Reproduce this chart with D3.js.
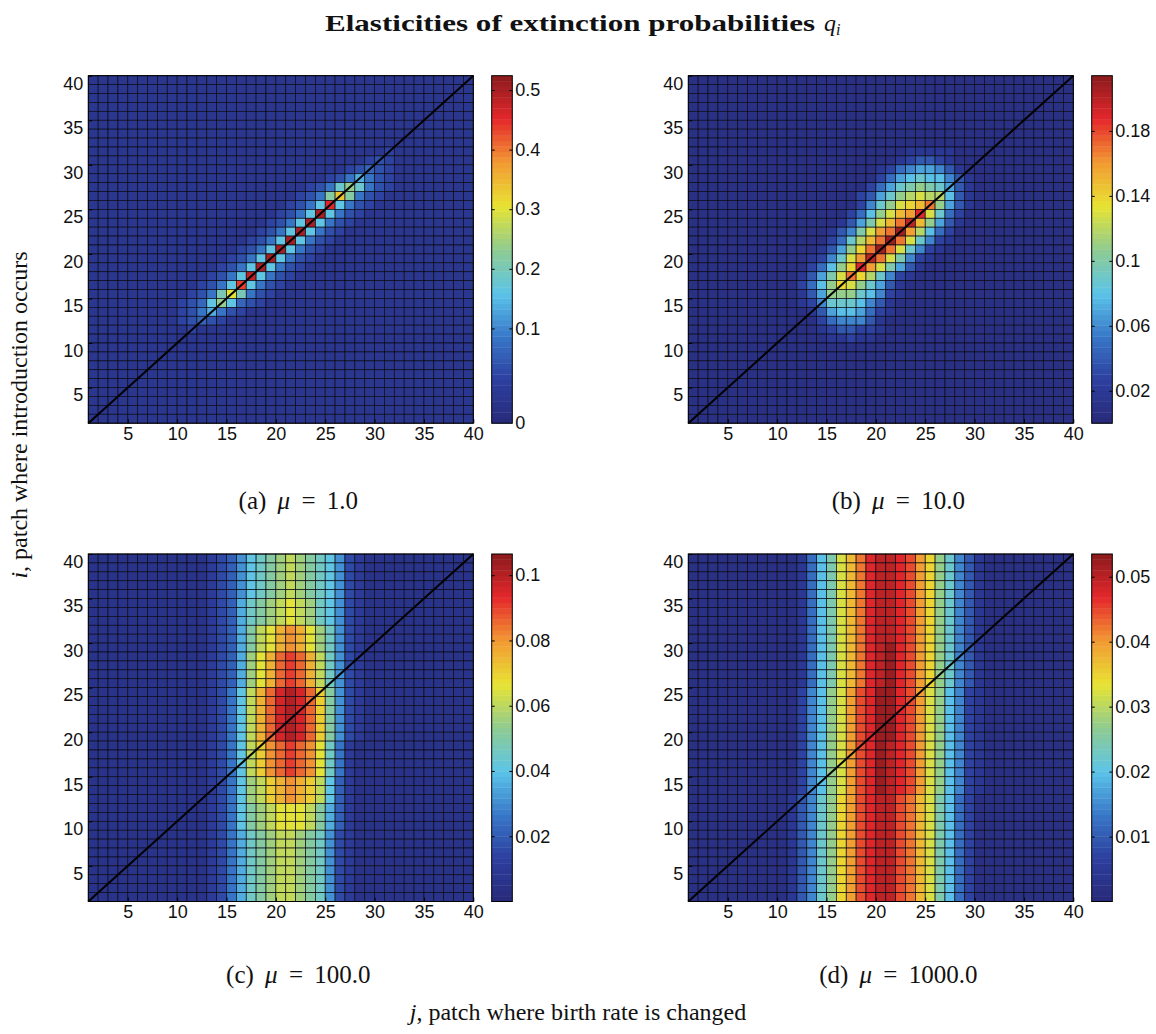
<!DOCTYPE html>
<html>
<head>
<meta charset="utf-8">
<script src="https://cdnjs.cloudflare.com/ajax/libs/d3/7.8.5/d3.min.js"></script>
<style>
  body { margin: 0; background: #ffffff; }
  svg { display: block; }
</style>
</head>
<body>
<svg id="chart" width="1156" height="1034"></svg>
<script>
// ---- values ----

// ticks on both heatmap axes (patch numbers)
const axisTicks = [5, 10, 15, 20, 25, 30, 35, 40];

const panelLetters = ["a", "b", "c", "d"];
const muLabels = ["1.0", "10.0", "100.0", "1000.0"];

// colour limits and colorbar ticks of every panel
const cbarMin = [-0.059, 0, 0, 0];
const cbarMax = [0.524, 0.214, 0.1065, 0.0535];
const cbarTicks = [
  [0.1, 0.2, 0.3, 0.4, 0.5],
  [0.02, 0.06, 0.1, 0.14, 0.18],
  [0.02, 0.04, 0.06, 0.08, 0.1],
  [0.01, 0.02, 0.03, 0.04, 0.05]
];
// label printed at the foot of the bar (only panel a has one)
const cbarFootLabel = ["0", "", "", ""];

// Cell grids: one row string per i, from i = 39 (top) down to i = 1,
// one base-36 level per column j = 1..39 (spaces only group the columns by ten).
// value = offset + level * step of the panel
const gridStep = [0.02, 0.01, 0.005, 0.0025];
const gridOffset = [-0.04, 0, 0, 0];

const gridA = [
  "1111111111 1111111111 1111111111 111111111",
  "1111111111 1111111111 1111111111 111111111",
  "1111111111 1111111111 1111111111 111111111",
  "1111111111 1111111111 1111111111 111111111",
  "1111111111 1111111111 1111111111 111111111",
  "1111111111 1111111111 1111111111 111111111",
  "1111111111 1111111111 1111111111 111111111",
  "1111111111 1111111111 1111111111 111111111",
  "1111111111 1111111111 1111111111 311111111",
  "1111111111 1111111111 1111111134 311111111",
  "1111111111 1111111111 1111113454 311111111",
  "1111111111 1111111111 1111346964 311111111",
  "1111111111 1111111111 11346beb64 311111111",
  "1111111111 1111111111 1346djd643 111111111",
  "1111111111 1111111111 346apa6431 111111111",
  "1111111111 1111111113 46ara64311 111111111",
  "1111111111 1111111134 6ara643111 111111111",
  "1111111111 1111111346 ara6431111 111111111",
  "1111111111 111111346a ra64311111 111111111",
  "1111111111 11111346ar a643111111 111111111",
  "1111111111 1111346ara 6431111111 111111111",
  "1111111111 111346ara6 4311111111 111111111",
  "1111111111 11346aqa64 3111111111 111111111",
  "1111111111 1346aoa643 1111111111 111111111",
  "1111111111 346chc6431 1111111111 111111111",
  "1111111113 45aea54311 1111111111 111111111",
  "1111111113 4696431111 1111111111 111111111",
  "1111111113 4543111111 1111111111 111111111",
  "1111111111 3111111111 1111111111 111111111",
  "1111111111 1111111111 1111111111 111111111",
  "1111111111 1111111111 1111111111 111111111",
  "1111111111 1111111111 1111111111 111111111",
  "1111111111 1111111111 1111111111 111111111",
  "1111111111 1111111111 1111111111 111111111",
  "1111111111 1111111111 1111111111 111111111",
  "1111111111 1111111111 1111111111 111111111",
  "1111111111 1111111111 1111111111 111111111",
  "1111111111 1111111111 1111111111 111111111",
  "1111111111 1111111111 1111111111 111111111"
];

const gridB = [
  "1111111111 1111111111 1111111111 111111111",
  "1111111111 1111111111 1111111111 111111111",
  "1111111111 1111111111 1111111111 111111111",
  "1111111111 1111111111 1111111111 111111111",
  "1111111111 1111111111 1111111111 111111111",
  "1111111111 1111111111 1111111111 111111111",
  "1111111111 1111111111 1111111111 111111111",
  "1111111111 1111111111 1111111111 111111111",
  "1111111111 1111111111 1122222111 111111111",
  "1111111111 1111111111 1234432111 111111111",
  "1111111111 1111111112 3567764211 111111111",
  "1111111111 1111111113 5789886421 111111111",
  "1111111111 1111111135 79aba97421 111111111",
  "1111111111 1111111347 9bcdcc8421 111111111",
  "1111111111 1111111369 bdefhb7421 111111111",
  "1111111111 111111358b dfgjd95311 111111111",
  "1111111111 11111247ad fhkfb74211 111111111",
  "1111111111 1111246adg hlgc853111 111111111",
  "1111111111 1111359cfh lhd9632111 111111111",
  "1111111111 111247behl hd96321111 111111111",
  "1111111111 112369dgkh da63211111 111111111",
  "1111111111 11358bejgd a742111111 111111111",
  "1111111111 1247adhec9 6321111111 111111111",
  "1111111111 1358bedb97 4211111111 111111111",
  "1111111111 1247bbb986 3211111111 111111111",
  "1111111111 1236999864 2111111111 111111111",
  "1111111111 1124788753 2111111111 111111111",
  "1111111111 1113566642 1111111111 111111111",
  "1111111111 1112344332 1111111111 111111111",
  "1111111111 1111223221 1111111111 111111111",
  "1111111111 1111111111 1111111111 111111111",
  "1111111111 1111111111 1111111111 111111111",
  "1111111111 1111111111 1111111111 111111111",
  "1111111111 1111111111 1111111111 111111111",
  "1111111111 1111111111 1111111111 111111111",
  "1111111111 1111111111 1111111111 111111111",
  "1111111111 1111111111 1111111111 111111111",
  "1111111111 1111111111 1111111111 111111111",
  "1111111111 1111111111 1111111111 111111111"
];

const gridC = [
  "1111111111 11234689ab cba9863211 111111111",
  "1111111111 11234689ab cba9863211 111111111",
  "1111111111 11234689ab cba9863211 111111111",
  "1111111111 11234689ab cba9863211 111111111",
  "1111111111 11234689ab cba9863211 111111111",
  "1111111111 1123479abc dcb9863211 111111111",
  "1111111111 1123479abc dcb9863211 111111111",
  "1111111111 1123479abc dcb9863211 111111111",
  "1111111111 112347acdf gfdb963211 111111111",
  "1111111111 112347acdf gfdb963211 111111111",
  "1111111111 112347acdf gfdb963211 111111111",
  "1111111111 112347bdfh ihfc963211 111111111",
  "1111111111 112347bdfh ihfc963211 111111111",
  "1111111111 112347bdfh ihfc963211 111111111",
  "1111111111 112347bdfh ihfc963211 111111111",
  "1111111111 112358cfhj kjhea63211 111111111",
  "1111111111 112358cfhj kjhea63211 111111111",
  "1111111111 112358cfhj kjhea63211 111111111",
  "1111111111 112358cfhj kjhea63211 111111111",
  "1111111111 112358cfhj kjhea63211 111111111",
  "1111111111 112358cfhj kjhea63211 111111111",
  "1111111111 112358cegh ihgd952111 111111111",
  "1111111111 112358cegh ihgd952111 111111111",
  "1111111111 112358cegh ihgd952111 111111111",
  "1111111111 112358cegh ihgd952111 111111111",
  "1111111111 112358bcef gfec842111 111111111",
  "1111111111 112358bcef gfec842111 111111111",
  "1111111111 112358bcef gfec842111 111111111",
  "1111111111 112358abcd ddca742111 111111111",
  "1111111111 112358abcd ddca742111 111111111",
  "1111111111 112358abcd ddca742111 111111111",
  "1111111111 1123579abc cba9632111 111111111",
  "1111111111 1123579abc cba9632111 111111111",
  "1111111111 1123579abc cba9632111 111111111",
  "1111111111 1123579abc cba9632111 111111111",
  "1111111111 1123579abc cba9632111 111111111",
  "1111111111 1123579abc cba9632111 111111111",
  "1111111111 1123579abc cba9632111 111111111",
  "1111111111 1123579abc cba9632111 111111111"
];

const gridD = [
  "1111111111 1258adfhjk kjigeb9642 111111111",
  "1111111111 1258adfhjk kjigeb9642 111111111",
  "1111111111 1258adfhjk kjigeb9642 111111111",
  "1111111111 1258adfhjk kjigeb9642 111111111",
  "1111111111 1258adfhjk kjigeb9642 111111111",
  "1111111111 1258adfhjk kjigeb9642 111111111",
  "1111111111 1258adfhjk kjigeb9642 111111111",
  "1111111111 1258adfhjk kjigeb9642 111111111",
  "1111111111 1258adfhjk kjigeb9642 111111111",
  "1111111111 1258adfhjk kjigeb9642 111111111",
  "1111111111 1258adfhjk ljigeb9642 111111111",
  "1111111111 1258adfhjk ljigeb9642 111111111",
  "1111111111 1258adfhjk ljigeb9642 111111111",
  "1111111111 1258adfhjk ljigeb9642 111111111",
  "1111111111 1258adfhjk ljigeb9642 111111111",
  "1111111111 1368bdgijl ljigdb8632 111111111",
  "1111111111 1368bdgijl ljigdb8632 111111111",
  "1111111111 1368bdgijl ljigdb8632 111111111",
  "1111111111 1368bdgijl ljigdb8632 111111111",
  "1111111111 1368bdgijl ljigdb8632 111111111",
  "1111111111 1368bdgijl ljigdb8632 111111111",
  "1111111111 1368bdgijl kjigdb8632 111111111",
  "1111111111 1368bdgijl kjigdb8632 111111111",
  "1111111111 1368bdgijl kjigdb8632 111111111",
  "1111111111 1368bdgijl kjigdb8632 111111111",
  "1111111111 1368bdgijl kjigdb8632 111111111",
  "1111111111 1368bdgijl kjigdb8632 111111111",
  "1111111111 2469begijk kihfda8531 111111111",
  "1111111111 2469begijk kihfda8531 111111111",
  "1111111111 2469begijk kihfda8531 111111111",
  "1111111111 2469begijk kihfda8531 111111111",
  "1111111111 2469begijk kihfda8531 111111111",
  "1111111111 2469begijk kihfda8531 111111111",
  "1111111111 2469begijk kihfda8531 111111111",
  "1111111111 2469begijk kihfda8531 111111111",
  "1111111111 2469begijk kihfda8531 111111111",
  "1111111111 2469begijk kihfda8531 111111111",
  "1111111111 2469begijk kihfda8531 111111111",
  "1111111111 2469begijk kihfda8531 111111111"
];

const grids = [gridA, gridB, gridC, gridD];

// ---- layout ----
const plotW = 385, plotH = 347.5;
const panelLeft = [88.3, 688.3, 88.3, 688.3];
const panelTop = [75.7, 75.7, 554, 554];
const captionY = [509, 509, 983, 983];
const cbGap = 18.4, cbW = 20.6;
const nColors = 64;

const serif = "'Liberation Serif', 'DejaVu Serif', serif";
const sans = "'Liberation Sans', Arial, sans-serif";

// washed-out jet colormap as printed in the figure
const jetStops = ["#282a7a", "#2d3f9e", "#3878c8", "#5cc5e9", "#8fcb90",
                  "#e8e332", "#f29a33", "#e5272c", "#8a1b1d"];
const jet = d3.scaleLinear()
  .domain(d3.range(jetStops.length).map(k => k / (jetStops.length - 1)))
  .range(jetStops)
  .clamp(true);
const bandColor = f => {
  const k = Math.max(0, Math.min(nColors - 1, Math.floor(f * nColors)));
  return jet((k + 0.5) / nColors);
};

const svg = d3.select("#chart");

function drawPanel(p) {
  const rows = grids[p].map(r => r.replace(/ /g, ""));
  const g = svg.append("g")
    .attr("transform", `translate(${panelLeft[p]},${panelTop[p]})`);

  const x = d3.scaleLinear().domain([1, 40]).range([0, plotW]);
  const y = d3.scaleLinear().domain([1, 40]).range([plotH, 0]);
  const frac = d3.scaleLinear().domain([cbarMin[p], cbarMax[p]]).range([0, 1]);

  const cells = [];
  rows.forEach((row, r) => {
    const i = 39 - r;
    for (let j = 1; j <= 39; j++) {
      cells.push({ i, j, v: gridOffset[p] + parseInt(row[j - 1], 36) * gridStep[p] });
    }
  });

  g.selectAll("rect.cell")
    .data(cells)
    .join("rect")
    .attr("class", "cell")
    .attr("x", d => x(d.j))
    .attr("y", d => y(d.i + 1))
    .attr("width", d => x(d.j + 1) - x(d.j))
    .attr("height", d => y(d.i) - y(d.i + 1))
    .attr("fill", d => bandColor(frac(d.v)))
    .attr("stroke", "#0b0b16")
    .attr("stroke-width", 0.7);

  // diagonal i = j
  g.append("line")
    .attr("x1", x(1)).attr("y1", y(1))
    .attr("x2", x(40)).attr("y2", y(40))
    .attr("stroke", "#000")
    .attr("stroke-width", 2);

  g.append("rect")
    .attr("width", plotW).attr("height", plotH)
    .attr("fill", "none").attr("stroke", "#000").attr("stroke-width", 1);

  const xAxis = d3.axisBottom(x).tickValues(axisTicks).tickSize(-4).tickPadding(4);
  const yAxis = d3.axisLeft(y).tickValues(axisTicks).tickSize(-4).tickPadding(5);

  const gx = g.append("g").attr("transform", `translate(0,${plotH})`).call(xAxis);
  const gy = g.append("g").call(yAxis);
  [gx, gy].forEach(a => {
    a.select(".domain").remove();
    a.attr("font-family", sans).attr("font-size", 18);
    a.selectAll("text").attr("fill", "#111");
  });
  gy.selectAll("text").attr("dy", "0.74em");

  // colorbar
  const cb = svg.append("g")
    .attr("transform", `translate(${panelLeft[p] + plotW + cbGap},${panelTop[p]})`);
  const cy = d3.scaleLinear().domain([cbarMin[p], cbarMax[p]]).range([plotH, 0]);
  const span = cbarMax[p] - cbarMin[p];
  cb.selectAll("rect.band")
    .data(d3.range(nColors))
    .join("rect")
    .attr("class", "band")
    .attr("x", 0)
    .attr("width", cbW)
    .attr("y", k => cy(cbarMin[p] + span * (k + 1) / nColors))
    .attr("height", plotH / nColors + 0.4)
    .attr("fill", k => jet((k + 0.5) / nColors));
  cb.append("rect")
    .attr("width", cbW).attr("height", plotH)
    .attr("fill", "none").attr("stroke", "#000").attr("stroke-width", 1);

  const cbRight = d3.axisRight(cy).tickValues(cbarTicks[p]).tickSize(-3).tickPadding(3)
    .tickFormat(d => String(d));
  const cbLeft = d3.axisLeft(cy).tickValues(cbarTicks[p]).tickSize(-3).tickFormat("");
  const gr = cb.append("g").attr("transform", `translate(${cbW},0)`).call(cbRight);
  const gl = cb.append("g").call(cbLeft);
  [gr, gl].forEach(a => a.select(".domain").remove());
  gr.attr("font-family", sans).attr("font-size", 18);
  gr.selectAll("text").attr("fill", "#111");
  if (cbarFootLabel[p]) {
    cb.append("text")
      .attr("x", cbW + 3).attr("y", plotH).attr("dy", "0.32em")
      .attr("font-family", sans).attr("font-size", 18).attr("fill", "#111")
      .text(cbarFootLabel[p]);
  }

  // caption
  const cap = svg.append("text")
    .attr("x", panelLeft[p] + 210)
    .attr("y", captionY[p])
    .attr("text-anchor", "middle")
    .attr("font-family", serif)
    .attr("font-size", 25)
    .attr("word-spacing", 5)
    .attr("fill", "#111");
  cap.append("tspan").text(`(${panelLetters[p]}) `);
  cap.append("tspan").attr("font-style", "italic").text("\u03bc");
  cap.append("tspan").text(` = ${muLabels[p]}`);
}

d3.range(4).forEach(drawPanel);

// title
svg.append("text")
  .attr("x", 325).attr("y", 31)
  .attr("font-family", serif).attr("font-weight", "bold").attr("font-size", 23)
  .attr("textLength", 490).attr("lengthAdjust", "spacingAndGlyphs")
  .attr("fill", "#111")
  .text("Elasticities of extinction probabilities");
const tq = svg.append("text")
  .attr("x", 824).attr("y", 31)
  .attr("font-family", serif).attr("font-size", 24).attr("font-style", "italic")
  .attr("fill", "#111")
  .text("q");
tq.append("tspan").attr("font-size", 16).attr("dy", 4).text("i");

// axis titles
const xl = svg.append("text")
  .attr("x", 578).attr("y", 1020)
  .attr("text-anchor", "middle")
  .attr("font-family", serif).attr("font-size", 24).attr("fill", "#111");
xl.append("tspan").attr("font-style", "italic").text("j");
xl.append("tspan").text(", patch where birth rate is changed");

const yl = svg.append("text")
  .attr("transform", "translate(27,415) rotate(-90)")
  .attr("text-anchor", "middle")
  .attr("font-family", serif).attr("font-size", 24).attr("fill", "#111");
yl.append("tspan").attr("font-style", "italic").text("i");
yl.append("tspan").text(", patch where introduction occurs");
</script>
</body>
</html>
